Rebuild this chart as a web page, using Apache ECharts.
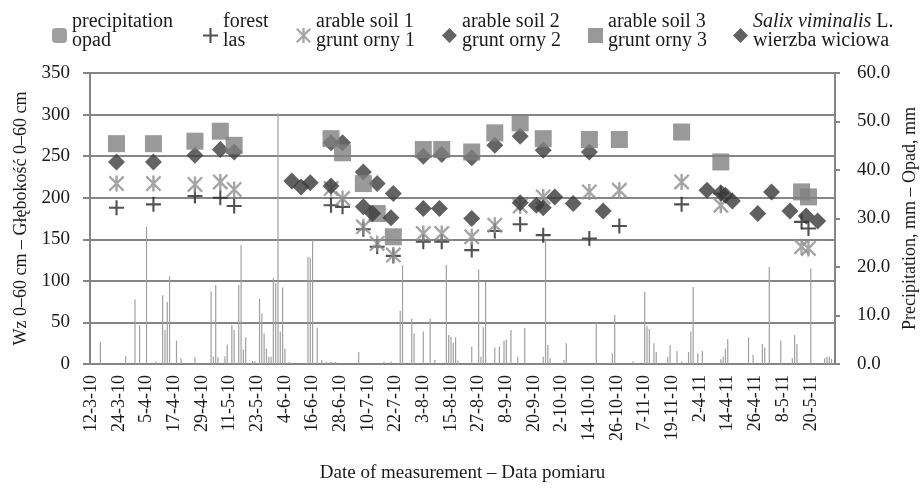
<!DOCTYPE html>
<html>
<head>
<meta charset="utf-8">
<script src="https://cdn.jsdelivr.net/npm/echarts@6/dist/echarts.min.js"></script>
<style>html,body{margin:0;padding:0;background:#fff}#c{width:920px;height:488px}</style>
</head>
<body>
<div id="c"></div>
<script>
// measurement periods (category axis = consecutive days inside these periods)
const periods = [['2010-03-12', '2010-11-30'], ['2011-04-02', '2011-05-30']];

// daily precipitation, mm (right axis) – days not listed had no rain
const precipitation = [
  ['16-3-10', 4.6], ['27-3-10', 1.6], ['31-3-10', 13.3], ['2-4-10', 8.0], ['5-4-10', 28.3], ['9-4-10', 0.5],
  ['12-4-10', 14.2], ['13-4-10', 7.0], ['14-4-10', 12.8], ['15-4-10', 18.1], ['18-4-10', 4.8], ['20-4-10', 1.2],
  ['26-4-10', 1.4], ['3-5-10', 15.0], ['4-5-10', 1.5], ['5-5-10', 16.3], ['6-5-10', 1.4], ['9-5-10', 1.6],
  ['10-5-10', 4.0], ['12-5-10', 8.0], ['13-5-10', 7.0], ['15-5-10', 16.3], ['16-5-10', 24.5], ['17-5-10', 3.0],
  ['18-5-10', 5.5], ['21-5-10', 0.6], ['22-5-10', 0.6], ['24-5-10', 13.5], ['25-5-10', 10.4], ['26-5-10', 6.3],
  ['27-5-10', 3.2], ['28-5-10', 1.5], ['29-5-10', 1.5], ['30-5-10', 17.7], ['31-5-10', 16.6], ['1-6-10', 51.7],
  ['2-6-10', 6.7], ['3-6-10', 15.8], ['4-6-10', 3.2], ['6-6-10', 0.4], ['14-6-10', 22.1], ['15-6-10', 21.9],
  ['16-6-10', 25.6], ['18-6-10', 7.5], ['20-6-10', 0.8], ['22-6-10', 0.5], ['24-6-10', 0.5], ['26-6-10', 0.4],
  ['6-7-10', 2.5], ['17-7-10', 0.5], ['20-7-10', 0.5], ['24-7-10', 11.0], ['25-7-10', 20.4], ['29-7-10', 9.4],
  ['30-7-10', 6.3], ['3-8-10', 6.7], ['6-8-10', 9.4], ['8-8-10', 0.8], ['13-8-10', 20.4], ['14-8-10', 6.0],
  ['15-8-10', 5.6], ['16-8-10', 4.4], ['17-8-10', 5.5], ['18-8-10', 0.7], ['24-8-10', 3.6], ['27-8-10', 19.5],
  ['28-8-10', 1.5], ['29-8-10', 7.6], ['30-8-10', 17.0], ['3-9-10', 3.4], ['5-9-10', 3.6], ['7-9-10', 4.8],
  ['8-9-10', 5.0], ['10-9-10', 7.0], ['13-9-10', 1.5], ['16-9-10', 7.4], ['24-9-10', 1.5], ['25-9-10', 25.4],
  ['26-9-10', 3.9], ['27-9-10', 1.2], ['3-10-10', 0.8], ['4-10-10', 4.3], ['17-10-10', 8.5], ['24-10-10', 2.2],
  ['25-10-10', 10.1], ['2-11-10', 0.5], ['7-11-10', 14.9], ['8-11-10', 7.8], ['9-11-10', 7.2], ['11-11-10', 4.3],
  ['12-11-10', 2.5], ['17-11-10', 1.5], ['18-11-10', 3.9], ['21-11-10', 2.7], ['23-11-10', 0.5], ['26-11-10', 2.5],
  ['27-11-10', 6.7], ['28-11-10', 15.9], ['30-11-10', 2.2], ['3-4-11', 2.7], ['11-4-11', 1.0], ['12-4-11', 1.5],
  ['13-4-11', 3.2], ['14-4-11', 5.1], ['23-4-11', 5.5], ['25-4-11', 1.9], ['29-4-11', 4.1], ['30-4-11', 3.4],
  ['2-5-11', 20.0], ['7-5-11', 4.8], ['12-5-11', 1.2], ['13-5-11', 6.0], ['14-5-11', 4.1], ['20-5-11', 19.7],
  ['26-5-11', 1.2], ['27-5-11', 1.5], ['28-5-11', 1.5], ['29-5-11', 1.0]
];

// soil moisture, Wz 0–60 cm (left axis)
const forest = [
  ['23-3-10', 188], ['8-4-10', 192], ['26-4-10', 202], ['7-5-10', 200], ['13-5-10', 190], ['24-6-10', 191],
  ['29-6-10', 189], ['8-7-10', 162], ['14-7-10', 141], ['21-7-10', 130], ['3-8-10', 147], ['11-8-10', 147],
  ['24-8-10', 137], ['3-9-10', 160], ['14-9-10', 168], ['24-9-10', 155], ['14-10-10', 151], ['27-10-10', 166],
  ['23-11-10', 192], ['11-4-11', 205], ['16-5-11', 171], ['19-5-11', 163]
];
const arableSoil1 = [
  ['23-3-10', 217], ['8-4-10', 217], ['26-4-10', 216], ['7-5-10', 219], ['13-5-10', 210], ['24-6-10', 211],
  ['29-6-10', 199], ['8-7-10', 165], ['14-7-10', 145], ['21-7-10', 131], ['3-8-10', 157], ['11-8-10', 157],
  ['24-8-10', 153], ['3-9-10', 167], ['14-9-10', 190], ['24-9-10', 201], ['14-10-10', 207], ['27-10-10', 209],
  ['23-11-10', 219], ['11-4-11', 191], ['16-5-11', 141], ['19-5-11', 139]
];
const arableSoil2 = [
  ['23-3-10', 243], ['8-4-10', 243], ['26-4-10', 251], ['7-5-10', 258], ['13-5-10', 255], ['24-6-10', 266],
  ['29-6-10', 266], ['8-7-10', 231], ['14-7-10', 217], ['21-7-10', 205], ['3-8-10', 250], ['11-8-10', 252],
  ['24-8-10', 248], ['3-9-10', 263], ['14-9-10', 274], ['24-9-10', 257], ['14-10-10', 255], ['11-4-11', 206]
];
const arableSoil3 = [
  ['23-3-10', 265], ['8-4-10', 265], ['26-4-10', 268], ['7-5-10', 280], ['13-5-10', 263], ['24-6-10', 271],
  ['29-6-10', 254], ['8-7-10', 217], ['14-7-10', 181], ['21-7-10', 153], ['3-8-10', 258], ['11-8-10', 258],
  ['24-8-10', 255], ['3-9-10', 278], ['14-9-10', 290], ['24-9-10', 271], ['14-10-10', 270], ['27-10-10', 270],
  ['23-11-10', 279], ['11-4-11', 243], ['16-5-11', 207], ['19-5-11', 201]
];
const salix = [
  ['7-6-10', 220], ['11-6-10', 213], ['15-6-10', 218], ['24-6-10', 214], ['8-7-10', 189], ['12-7-10', 181],
  ['20-7-10', 176], ['3-8-10', 187], ['10-8-10', 187], ['24-8-10', 175], ['14-9-10', 194], ['21-9-10', 191],
  ['24-9-10', 188], ['29-9-10', 201], ['7-10-10', 193], ['20-10-10', 184], ['5-4-11', 209], ['13-4-11', 203],
  ['16-4-11', 196], ['27-4-11', 181], ['3-5-11', 207], ['11-5-11', 184], ['18-5-11', 178], ['23-5-11', 172]
];

const leftTicks = [0, 350, 50];
const rightTicks = [0, 60, 10];

const legendLabels = {
  precipitation: 'precipitation\nopad',
  forest: 'forest\nlas',
  soil1: 'arable soil 1\ngrunt orny 1',
  soil2: 'arable soil 2\ngrunt orny 2',
  soil3: 'arable soil 3\ngrunt orny 3',
  salix: '{i|Salix viminalis} L.\nwierzba wiciowa'
};

// ---- build ----
function fmt(d) { return d.getUTCDate() + '-' + (d.getUTCMonth() + 1) + '-' + String(d.getUTCFullYear()).slice(2); }
const categories = [];
periods.forEach(function (p) {
  const a = new Date(p[0] + 'T00:00:00Z'), b = new Date(p[1] + 'T00:00:00Z');
  for (let d = a; d <= b; d = new Date(d.getTime() + 86400000)) categories.push(fmt(d));
});
const precipMap = {};
precipitation.forEach(function (r) { precipMap[r[0]] = r[1]; });
const precipData = categories.map(function (c) { return precipMap[c] !== undefined ? precipMap[c] : null; });

const FONT = 'Liberation Serif';
const TXT = '#1a1a1a';
const GRID = '#858585';
const asteriskPath = 'path://M4.25,0H5.75V10H4.25Z M0,1.05L1.05,0L10,8.95L8.95,10Z M8.95,0L10,1.05L1.05,10L0,8.95Z';
const plusPath = 'path://M4.3,0H5.7V4.3H10V5.7H5.7V10H4.3V5.7H0V4.3H4.3Z';

const chart = echarts.init(document.getElementById('c'), null, { renderer: 'canvas' });

function legendAt(name, left) {
  return {
    data: [name], left: left, top: 12, orient: 'horizontal',
    itemWidth: 15, itemHeight: 15, itemGap: 5, padding: 0,
    formatter: function (n) { return legendLabels[n]; },
    textStyle: {
      fontFamily: FONT, fontSize: 20, color: TXT, lineHeight: 19, padding: [0, 0, 8, 0],
      rich: { i: { fontFamily: FONT, fontSize: 20, fontStyle: 'italic', color: TXT, lineHeight: 19 } }
    },
    selectedMode: false
  };
}

const option = {
  animation: false,
  backgroundColor: '#fff',
  legend: [
    legendAt('precipitation', 52), legendAt('forest', 203), legendAt('soil1', 296),
    legendAt('soil2', 442), legendAt('soil3', 588), legendAt('salix', 733)
  ],
  grid: { left: 90, right: 85, top: 73, bottom: 124, containLabel: false, outerBoundsMode: 'none' },
  xAxis: {
    type: 'category', data: categories, boundaryGap: true,
    name: 'Date of measurement – Data pomiaru', nameLocation: 'middle', nameGap: 100,
    nameTextStyle: { fontFamily: FONT, fontSize: 19, color: TXT },
    axisLine: { lineStyle: { color: GRID, width: 2 } },
    axisTick: { show: false },
    axisLabel: { interval: 11, rotate: 90, margin: 11, fontFamily: FONT, fontSize: 18, color: TXT },
    splitLine: { show: false }
  },
  yAxis: [
    {
      type: 'value', min: leftTicks[0], max: leftTicks[1], interval: leftTicks[2], position: 'left',
      name: 'Wz 0–60 cm – Głębokość 0–60 cm', nameLocation: 'middle', nameGap: 59,
      nameTextStyle: { fontFamily: FONT, fontSize: 18, color: TXT },
      axisLine: { show: true, lineStyle: { color: GRID, width: 2 } },
      axisTick: { show: true, length: 7, lineStyle: { color: GRID, width: 2 } },
      axisLabel: { margin: 20, fontFamily: FONT, fontSize: 19, color: TXT },
      splitLine: { show: true, lineStyle: { color: GRID, width: 2 } }
    },
    {
      type: 'value', min: rightTicks[0], max: rightTicks[1], interval: rightTicks[2], position: 'right',
      name: 'Precipitation, mm – Opad, mm', nameLocation: 'middle', nameGap: 56,
      nameTextStyle: { fontFamily: FONT, fontSize: 18, color: TXT },
      axisLine: { show: true, lineStyle: { color: GRID, width: 2 } },
      axisTick: { show: true, length: 5, lineStyle: { color: GRID, width: 2 } },
      axisLabel: { margin: 22, fontFamily: FONT, fontSize: 19, color: TXT, formatter: function (v) { return v.toFixed(1); } },
      splitLine: { show: false }
    }
  ],
  series: [
    { name: 'precipitation', type: 'bar', yAxisIndex: 1, data: precipData, barWidth: 1.2,
      itemStyle: { color: '#a0a0a0' }, legendIcon: 'rect' },
    { name: 'forest', type: 'scatter', data: forest, symbol: plusPath, symbolSize: 15,
      itemStyle: { color: '#262626' } },
    { name: 'soil1', type: 'scatter', data: arableSoil1, symbol: asteriskPath, symbolSize: 16,
      itemStyle: { color: '#8f8f8f' } },
    { name: 'soil2', type: 'scatter', data: arableSoil2, symbol: 'diamond', symbolSize: [17, 17],
      itemStyle: { color: '#3d3d3d' } },
    { name: 'soil3', type: 'scatter', data: arableSoil3, symbol: 'rect', symbolSize: 17,
      itemStyle: { color: '#808080' } },
    { name: 'salix', type: 'scatter', data: salix, symbol: 'diamond', symbolSize: [17, 17],
      itemStyle: { color: '#383838' } }
  ]
};
chart.setOption(option);
</script>
</body>
</html>
